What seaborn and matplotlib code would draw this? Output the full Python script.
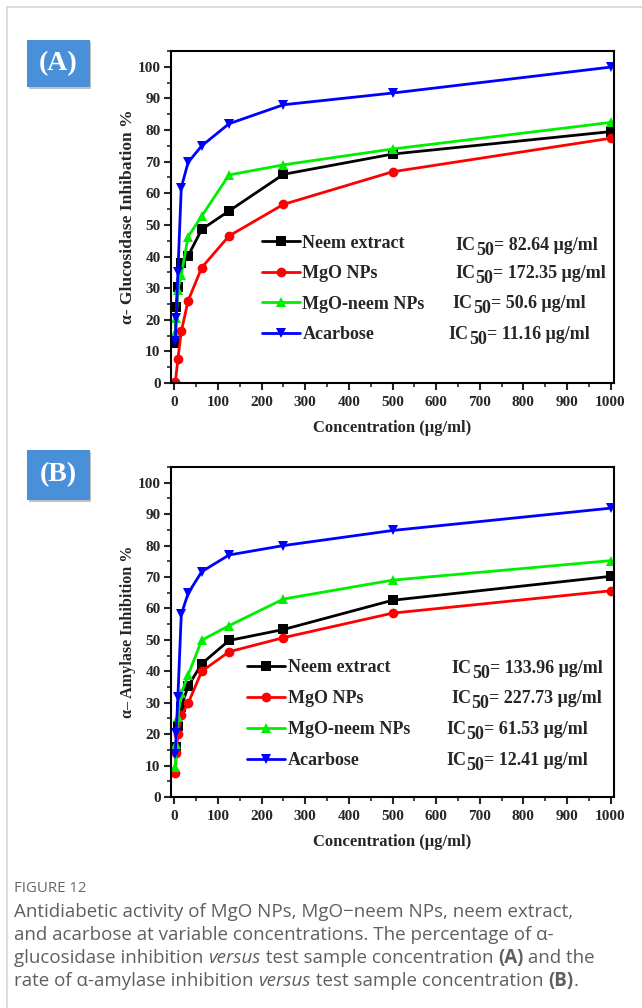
import numpy as np
import pandas as pd
import matplotlib
matplotlib.use("Agg")
import matplotlib.pyplot as plt
import matplotlib.transforms as mtransforms
from matplotlib.lines import Line2D
from matplotlib.patches import Rectangle
from matplotlib.ticker import MultipleLocator
import seaborn as sns

# ---------------- data ----------------
conc = [1.95, 3.9, 7.8, 15.6, 31.25, 62.5, 125, 250, 500, 1000]
conc_red_A = [1.95, 7.8, 15.6, 31.25, 62.5, 125, 250, 500, 1000]

neem_A = [12.8, 24.0, 30.3, 38.0, 40.2, 48.6, 54.4, 66.0, 72.4, 79.5]
mgo_A = [0.2, 7.6, 16.3, 26.0, 36.5, 46.5, 56.5, 66.8, 77.4]
mgoneem_A = [15.7, 20.5, 29.5, 34.2, 46.3, 52.8, 65.8, 69.0, 74.0, 82.4]
acarbose_A = [13.3, 20.5, 35.0, 61.8, 69.8, 75.0, 82.0, 88.0, 91.7, 99.9]

neem_B = [15.0, 16.0, 22.5, 28.7, 35.3, 42.4, 49.8, 53.3, 62.6, 70.2]
mgo_B = [7.5, 14.0, 20.2, 26.0, 29.8, 40.0, 46.2, 50.7, 58.5, 65.6]
mgoneem_B = [9.5, 17.0, 25.5, 33.0, 38.8, 49.9, 54.5, 63.0, 69.0, 75.2]
acarbose_B = [13.6, 20.4, 31.9, 58.1, 64.8, 71.7, 77.0, 80.0, 84.8, 91.9]

series_names = ["Neem extract", "MgO NPs", "MgO-neem NPs", "Acarbose"]
ic50_A = ["82.64", "172.35", "50.6", "11.16"]
ic50_B = ["133.96", "227.73", "61.53", "12.41"]
x_ticks = [0, 100, 200, 300, 400, 500, 600, 700, 800, 900, 1000]
y_ticks = [0, 10, 20, 30, 40, 50, 60, 70, 80, 90, 100]

# ---------------- style ----------------
sns.set_theme(style="ticks")
plt.rcParams["font.family"] = ["Liberation Serif", "DejaVu Serif"]
plt.rcParams["font.weight"] = "bold"
plt.rcParams["axes.linewidth"] = 1.5
plt.rcParams["axes.edgecolor"] = "black"

colors = ["#000000", "#ff0000", "#00ee00", "#0000ff"]
markers = ["s", "o", "^", "v"]

W, H = 642, 1008
fig = plt.figure(figsize=(W / 100, H / 100), dpi=100)
fig.patch.set_facecolor("white")
renderer = fig.canvas.get_renderer()


def px_axes(left, top, right, bottom):
    return fig.add_axes([left / W, 1 - bottom / H, (right - left) / W, (bottom - top) / H])


axA = px_axes(171, 51, 614, 383)
axB = px_axes(171, 467, 614, 797)


def ic_text(ax, x, y, value):
    fs = 13
    t1 = ax.text(x, y, "IC", transform=ax.transAxes, fontsize=fs, fontweight="bold",
                 va="center", ha="left")
    w1 = t1.get_window_extent(renderer).width
    tr2 = mtransforms.offset_copy(ax.transAxes, fig=fig, x=w1, y=-5, units="dots")
    t2 = ax.text(x, y, "50", transform=tr2, fontsize=fs, fontweight="bold",
                 va="center", ha="left")
    w2 = t2.get_window_extent(renderer).width
    tr3 = mtransforms.offset_copy(ax.transAxes, fig=fig, x=w1 + w2, y=0, units="dots")
    ax.text(x, y, "= " + value + " μg/ml", transform=tr3, fontsize=fs, fontweight="bold",
            va="center", ha="left")


def draw_panel(ax, xs_list, ys_list, ylabel, ylabel_size, ic50, leg_anchor, labelspacing, ic_pos):
    for i, name in enumerate(series_names):
        sns.lineplot(x=xs_list[i], y=ys_list[i], ax=ax, color=colors[i], marker=markers[i],
                     markersize=7, markeredgewidth=0, linewidth=2.0, label=name, estimator=None)
    ax.set_xlim(-8, 1008)
    ax.set_ylim(0, 105)
    ax.set_xticks(x_ticks)
    ax.set_yticks(y_ticks)
    ax.xaxis.set_minor_locator(MultipleLocator(50))
    ax.yaxis.set_minor_locator(MultipleLocator(5))
    ax.tick_params(which="major", length=5, width=1.5, direction="out", labelsize=11, pad=2.5,
                   top=False, right=False)
    ax.tick_params(axis="x", which="major", pad=4)
    ax.tick_params(which="minor", length=3, width=1.2, direction="out", top=False, right=False)
    for lab in ax.get_xticklabels() + ax.get_yticklabels():
        lab.set_fontweight("bold")
    for s in ax.spines.values():
        s.set_visible(True)
        s.set_linewidth(1.5)
    ax.set_xlabel("Concentration (μg/ml)", fontsize=12, fontweight="bold")
    ax.set_ylabel(ylabel, fontsize=ylabel_size, fontweight="bold")
    ax.xaxis.set_label_coords(0.5, -0.112)
    ax.yaxis.set_label_coords(-0.08, 0.5)
    ax.legend(loc="upper left", bbox_to_anchor=leg_anchor, frameon=False,
              prop={"family": "Liberation Serif", "weight": "bold", "size": 13},
              handlelength=2.1, handletextpad=0.15, labelspacing=labelspacing,
              borderpad=0, borderaxespad=0)
    for (x, y), v in zip(ic_pos, ic50):
        ic_text(ax, x, y, v)


draw_panel(axA, [conc, conc_red_A, conc, conc], [neem_A, mgo_A, mgoneem_A, acarbose_A],
           "α- Glucosidase Inhibation %", 12.6, ic50_A, (0.205, 0.447), 0.75,
           [(0.643, 0.414), (0.642, 0.331), (0.636, 0.239), (0.627, 0.145)])
draw_panel(axB, [conc] * 4, [neem_B, mgo_B, mgoneem_B, acarbose_B],
           "α– Amylase Inhibition %", 11.6, ic50_B, (0.172, 0.418), 0.78,
           [(0.634, 0.39), (0.632, 0.297), (0.621, 0.204), (0.621, 0.111)])

# ---------------- panel labels ----------------
def panel_label(txt, left, top, right, bottom):
    sh = Rectangle((left / W + 1.5 / W, 1 - bottom / H - 2 / H), (right - left) / W, (bottom - top) / H,
                   transform=fig.transFigure, facecolor="#9a9a9a", edgecolor="none", alpha=0.6)
    fig.add_artist(sh)
    r = Rectangle((left / W, 1 - bottom / H), (right - left) / W, (bottom - top) / H,
                  transform=fig.transFigure, facecolor="#4a90d9", edgecolor="none")
    fig.add_artist(r)
    fig.text((left + right) / 2 / W, 1 - (top + bottom) / 2 / H, txt, color="white",
             fontsize=20, fontweight="bold", ha="center", va="center",
             family=["Liberation Serif"])


panel_label("(A)", 27, 40, 90, 87)
panel_label("(B)", 27, 450, 90, 500)

# ---------------- card border ----------------
fig.add_artist(Line2D([7 / W, 1], [1 - 7 / H, 1 - 7 / H], transform=fig.transFigure,
                      color="#d5d5d5", linewidth=1.2))
fig.add_artist(Line2D([7 / W, 7 / W], [0, 1 - 7 / H], transform=fig.transFigure,
                      color="#d5d5d5", linewidth=1.2))

# ---------------- caption ----------------
ident = mtransforms.IdentityTransform()
cap_font = ["Open Sans", "DejaVu Sans"]
cap_color = "#5f5f5f"
cap_size = 13.5

fig.text(14, H - 892, "FIGURE 12", transform=ident, fontsize=10.8, color="#666666",
         family=cap_font, fontweight="normal", va="baseline")

lines = [
    [("Antidiabetic activity of MgO NPs, MgO−neem NPs, neem extract,", "normal", "normal")],
    [("and acarbose at variable concentrations. The percentage of α-", "normal", "normal")],
    [("glucosidase inhibition ", "normal", "normal"), ("versus", "italic", "normal"),
     (" test sample concentration ", "normal", "normal"), ("(A)", "normal", "bold"),
     (" and the", "normal", "normal")],
    [("rate of α-amylase inhibition ", "normal", "normal"), ("versus", "italic", "normal"),
     (" test sample concentration ", "normal", "normal"), ("(B)", "normal", "bold"),
     (".", "normal", "normal")],
]
baselines = [917, 940, 963, 986]
for segs, base in zip(lines, baselines):
    x = 14
    for txt, style, weight in segs:
        t = fig.text(x, H - base, txt, transform=ident, fontsize=cap_size, color=cap_color,
                     family=cap_font, style=style, fontweight=weight, va="baseline")
        bb = t.get_window_extent(renderer)
        x += bb.width

fig.savefig("out.png", dpi=100)
